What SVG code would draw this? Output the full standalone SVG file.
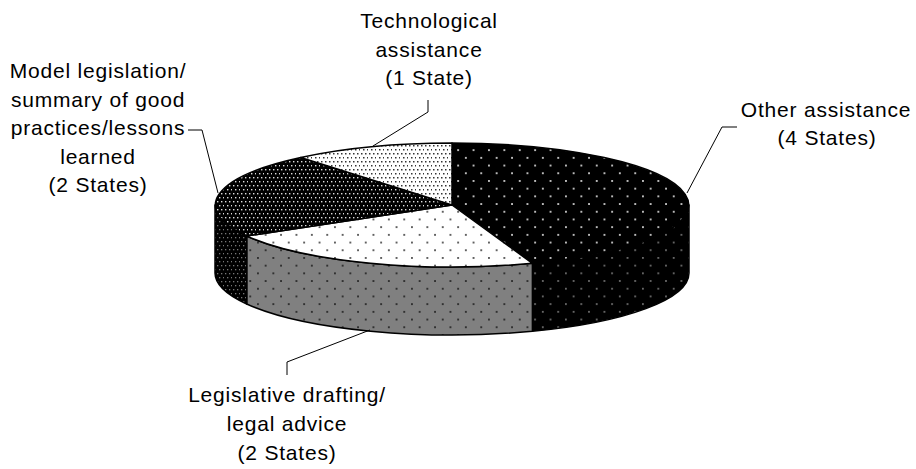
<svg xmlns="http://www.w3.org/2000/svg" width="916" height="469" viewBox="0 0 916 469">
<style>
.lbl{font-family:"Liberation Sans",Arial,sans-serif;font-size:21px;letter-spacing:0.8px;fill:#000;text-anchor:middle}
.edge{stroke:#000;stroke-width:1.5;stroke-linejoin:round}
.lead{fill:none;stroke:#000;stroke-width:1}
</style>
<defs>
<pattern id="pBlkTop" patternUnits="userSpaceOnUse" width="15.4" height="15.4">
<rect width="15.4" height="15.4" fill="#000"/>
<rect x="3" y="3" width="1.7" height="1.7" fill="#eee"/>
<rect x="10.7" y="10.7" width="1.7" height="1.7" fill="#eee"/>
</pattern>
<pattern id="pBlkSide" patternUnits="userSpaceOnUse" width="15.4" height="15.4">
<rect width="15.4" height="15.4" fill="#000"/>
<rect x="3" y="3" width="1.6" height="1.6" fill="#8a8a8a"/>
<rect x="10.7" y="10.7" width="1.6" height="1.6" fill="#8a8a8a"/>
</pattern>
<pattern id="pWhtTop" patternUnits="userSpaceOnUse" width="15.4" height="15.4">
<rect width="15.4" height="15.4" fill="#fff"/>
<rect x="3" y="3" width="1.7" height="1.7" fill="#333"/>
<rect x="10.7" y="10.7" width="1.7" height="1.7" fill="#333"/>
</pattern>
<pattern id="pGrySide" patternUnits="userSpaceOnUse" width="15.4" height="15.4">
<rect width="15.4" height="15.4" fill="#808080"/>
<rect x="3" y="3" width="1.7" height="1.7" fill="#1a1a1a"/>
<rect x="10.7" y="10.7" width="1.7" height="1.7" fill="#1a1a1a"/>
</pattern>
<pattern id="pDenseWht" patternUnits="userSpaceOnUse" width="8" height="8">
<rect width="8" height="8" fill="#fff"/>
<rect x="1" y="1" width="1.5" height="1.5" fill="#333"/>
<rect x="5" y="1" width="1.5" height="1.5" fill="#333"/>
<rect x="3" y="5" width="1.5" height="1.5" fill="#333"/>
<rect x="7" y="5" width="1.5" height="1.5" fill="#333"/>
</pattern>
<pattern id="pDenseBlk" patternUnits="userSpaceOnUse" width="8" height="8">
<rect width="8" height="8" fill="#000"/>
<rect x="1" y="1" width="1.4" height="1.4" fill="#ddd"/>
<rect x="5" y="1" width="1.4" height="1.4" fill="#ddd"/>
<rect x="3" y="5" width="1.4" height="1.4" fill="#ddd"/>
<rect x="7" y="5" width="1.4" height="1.4" fill="#ddd"/>
</pattern>
<pattern id="pDenseBlkSide" patternUnits="userSpaceOnUse" width="8" height="8">
<rect width="8" height="8" fill="#000"/>
<rect x="1" y="1" width="1.3" height="1.3" fill="#777"/>
<rect x="5" y="1" width="1.3" height="1.3" fill="#777"/>
<rect x="3" y="5" width="1.3" height="1.3" fill="#777"/>
<rect x="7" y="5" width="1.3" height="1.3" fill="#777"/>
</pattern>
</defs>
<rect width="916" height="469" fill="#fff"/>

<g id="node-other">
<path class="edge" fill="url(#pBlkSide)" d="M689,205 A237 62 0 0 1 532.4,263.3 L532.4,331.3 A237 62 0 0 0 689,273 Z"/>
<path class="edge" fill="url(#pBlkTop)" d="M452,205 L452,143 A237 62 0 0 1 532.4,263.3 Z"/>
<text class="lbl" x="826" y="117">Other assistance</text>
<text class="lbl" x="827" y="145">(4 States)</text>
</g>

<g id="node-legislative">
<path class="edge" fill="url(#pGrySide)" d="M532.4,263.3 A237 62 0 0 1 246.7,236 L246.7,304 A237 62 0 0 0 532.4,331.3 Z"/>
<path class="edge" fill="url(#pWhtTop)" d="M452,205 L532.4,263.3 A237 62 0 0 1 246.7,236 Z"/>
<text class="lbl" x="287" y="402">Legislative drafting/</text>
<text class="lbl" x="287" y="431">legal advice</text>
<text class="lbl" x="287" y="460">(2 States)</text>
</g>

<g id="node-model">
<path class="edge" fill="url(#pDenseBlkSide)" d="M246.7,236 A237 62 0 0 1 215,205 L215,273 A237 62 0 0 0 246.7,304 Z"/>
<path class="edge" fill="url(#pDenseBlk)" d="M452,205 L246.7,236 A237 62 0 0 1 300.7,157.5 Z"/>
<text class="lbl" x="98" y="78">Model legislation/</text>
<text class="lbl" x="98" y="106.5">summary of good</text>
<text class="lbl" x="98" y="135">practices/lessons</text>
<text class="lbl" x="98" y="163.5">learned</text>
<text class="lbl" x="98" y="192">(2 States)</text>
</g>

<g id="node-tech">
<path class="edge" fill="url(#pDenseWht)" d="M452,205 L300.7,157.5 A237 62 0 0 1 452,143 Z"/>
<text class="lbl" x="429" y="28">Technological</text>
<text class="lbl" x="429" y="56.5">assistance</text>
<text class="lbl" x="429" y="85">(1 State)</text>
</g>

<g id="connectors">
<polyline class="lead" points="373,146 428,112 428,100"/>
<polyline class="lead" points="188,130 202,130 218,193"/>
<polyline class="lead" points="737,127 722,127 687,193"/>
<polyline class="lead" points="370,330 287,362 287,375"/>
</g>
</svg>
